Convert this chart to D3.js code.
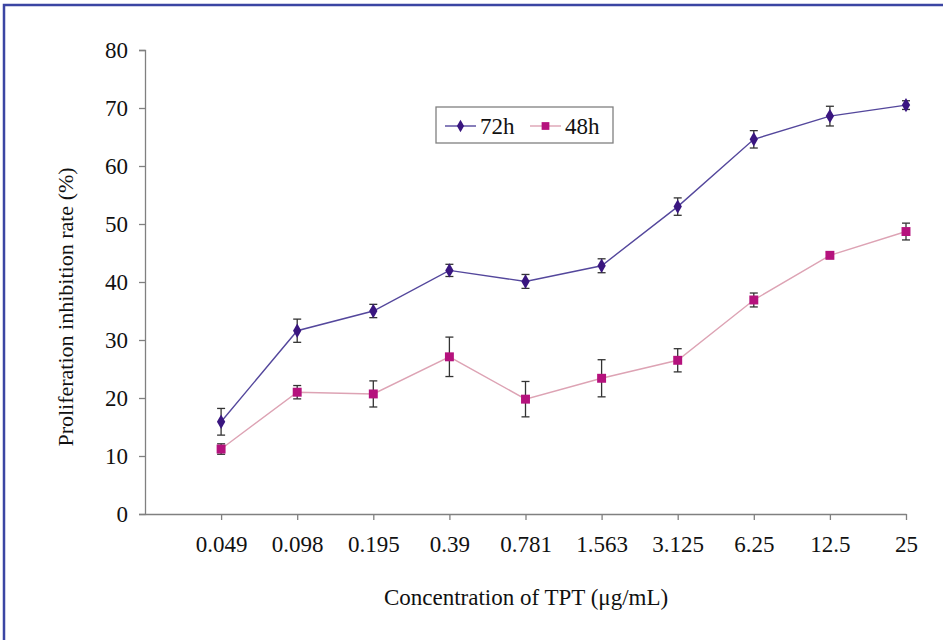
<!DOCTYPE html>
<html>
<head>
<meta charset="utf-8">
<script src="https://cdn.jsdelivr.net/npm/d3@7"></script>
<style>
  body { margin: 0; background: #fff; }
</style>
</head>
<body>
<div id="chart"></div>
<script>
// Chart data
const concentrations = ["0.049", "0.098", "0.195", "0.39", "0.781", "1.563", "3.125", "6.25", "12.5", "25"];
const rate72h = [15.9, 31.6, 35.0, 42.0, 40.1, 42.8, 53.0, 64.6, 68.6, 70.5];
const sd72h = [2.3, 2.0, 1.15, 1.05, 1.2, 1.2, 1.5, 1.5, 1.7, 0.75];
const rate48h = [11.2, 21.0, 20.7, 27.1, 19.8, 23.4, 26.5, 36.9, 44.6, 48.7];
const sd48h = [0.9, 1.15, 2.25, 3.4, 3.05, 3.2, 2.0, 1.2, 0.55, 1.45];
const yTicks = [0, 10, 20, 30, 40, 50, 60, 70, 80];

(function () {
    const W = 943, H = 640;
    const left = 145, right = 906, top = 50, bottom = 514;
    const serif = "'Liberation Serif', 'Times New Roman', Tinos, 'DejaVu Serif', serif";

    const svg = d3.select("#chart").append("svg")
        .attr("width", W).attr("height", H);

    // frame around the figure (only top and left edges show)
    svg.append("rect")
        .attr("x", 4).attr("y", 5)
        .attr("width", 1000).attr("height", 800)
        .attr("fill", "none")
        .attr("stroke", "#3b45a3")
        .attr("stroke-width", 2.5);

    const x = d3.scaleLinear().domain([0, concentrations.length]).range([left, right]);
    const y = d3.scaleLinear().domain([0, 80]).range([bottom, top]);

    // Y axis
    const yAxis = svg.append("g")
        .attr("transform", `translate(${left},0)`)
        .call(d3.axisLeft(y).tickValues(yTicks).tickSize(6).tickPadding(11));
    yAxis.attr("font-family", null).attr("font-size", null);
    yAxis.selectAll("path, line").attr("stroke", "#808080").attr("stroke-width", 1.3);
    yAxis.selectAll("text").style("font-family", serif).style("font-size", "23px").attr("fill", "#111");

    // X axis
    const xAxis = svg.append("g")
        .attr("transform", `translate(0,${bottom})`)
        .call(d3.axisBottom(x)
            .tickValues(d3.range(1, concentrations.length + 1))
            .tickFormat((d) => concentrations[d - 1])
            .tickSize(6).tickSizeOuter(0).tickPadding(16));
    xAxis.attr("font-family", null).attr("font-size", null);
    xAxis.selectAll("path, line").attr("stroke", "#808080").attr("stroke-width", 1.3);
    xAxis.selectAll("text").style("font-family", serif).style("font-size", "23px").attr("fill", "#111");

    // Axis titles
    svg.append("text")
        .attr("x", 526).attr("y", 605)
        .attr("text-anchor", "middle")
        .style("font-family", serif)
        .style("font-size", "23px")
        .attr("fill", "#111")
        .text("Concentration of TPT (\u03bcg/mL)");

    svg.append("text")
        .attr("transform", "translate(73,307) rotate(-90)")
        .attr("text-anchor", "middle")
        .style("font-family", serif)
        .style("font-size", "22px")
        .attr("fill", "#111")
        .text("Proliferation inhibition rate (%)");

    const series = [
        { values: rate48h, sd: sd48h, line: "#dda3b4", fill: "#b5127d", shape: d3.symbolSquare, size: 80 },
        { values: rate72h, sd: sd72h, line: "#54479c", fill: "#3a1680", shape: d3.symbolDiamond, size: 60 }
    ];

    series.forEach(function (s) {
        const pts = s.values.map((v, i) => ({ i: i + 1, v: v, sd: s.sd[i] }));

        svg.append("path")
            .datum(pts)
            .attr("fill", "none")
            .attr("stroke", s.line)
            .attr("stroke-width", 1.4)
            .attr("d", d3.line().x((d) => x(d.i)).y((d) => y(d.v)));

        // error bars
        const eb = svg.append("g").attr("stroke", "#333").attr("stroke-width", 1.3);
        pts.forEach(function (d) {
            const cx = x(d.i);
            eb.append("line").attr("x1", cx).attr("x2", cx)
                .attr("y1", y(d.v - d.sd)).attr("y2", y(d.v + d.sd));
            eb.append("line").attr("x1", cx - 4).attr("x2", cx + 4)
                .attr("y1", y(d.v - d.sd)).attr("y2", y(d.v - d.sd));
            eb.append("line").attr("x1", cx - 4).attr("x2", cx + 4)
                .attr("y1", y(d.v + d.sd)).attr("y2", y(d.v + d.sd));
        });

        svg.append("g").selectAll("path")
            .data(pts)
            .join("path")
            .attr("transform", (d) => `translate(${x(d.i)},${y(d.v)})`)
            .attr("d", d3.symbol().type(s.shape).size(s.size))
            .attr("fill", s.fill);
    });

    // Legend
    const lg = svg.append("g");
    lg.append("rect")
        .attr("x", 436).attr("y", 107)
        .attr("width", 177).attr("height", 36)
        .attr("fill", "#fff")
        .attr("stroke", "#808080")
        .attr("stroke-width", 1.3);

    const legendItems = [
        { label: "72h", x0: 445, line: "#54479c", fill: "#3a1680", shape: d3.symbolDiamond, size: 45 },
        { label: "48h", x0: 530, line: "#dda3b4", fill: "#b5127d", shape: d3.symbolSquare, size: 60 }
    ];
    legendItems.forEach(function (it) {
        lg.append("line")
            .attr("x1", it.x0).attr("x2", it.x0 + 31)
            .attr("y1", 126).attr("y2", 126)
            .attr("stroke", it.line).attr("stroke-width", 1.4);
        lg.append("path")
            .attr("transform", `translate(${it.x0 + 15.5},126)`)
            .attr("d", d3.symbol().type(it.shape).size(it.size)())
            .attr("fill", it.fill);
        lg.append("text")
            .attr("x", it.x0 + 35).attr("y", 134)
            .style("font-family", serif)
            .style("font-size", "23px")
            .attr("fill", "#111")
            .text(it.label);
    });
})();
</script>
</body>
</html>
